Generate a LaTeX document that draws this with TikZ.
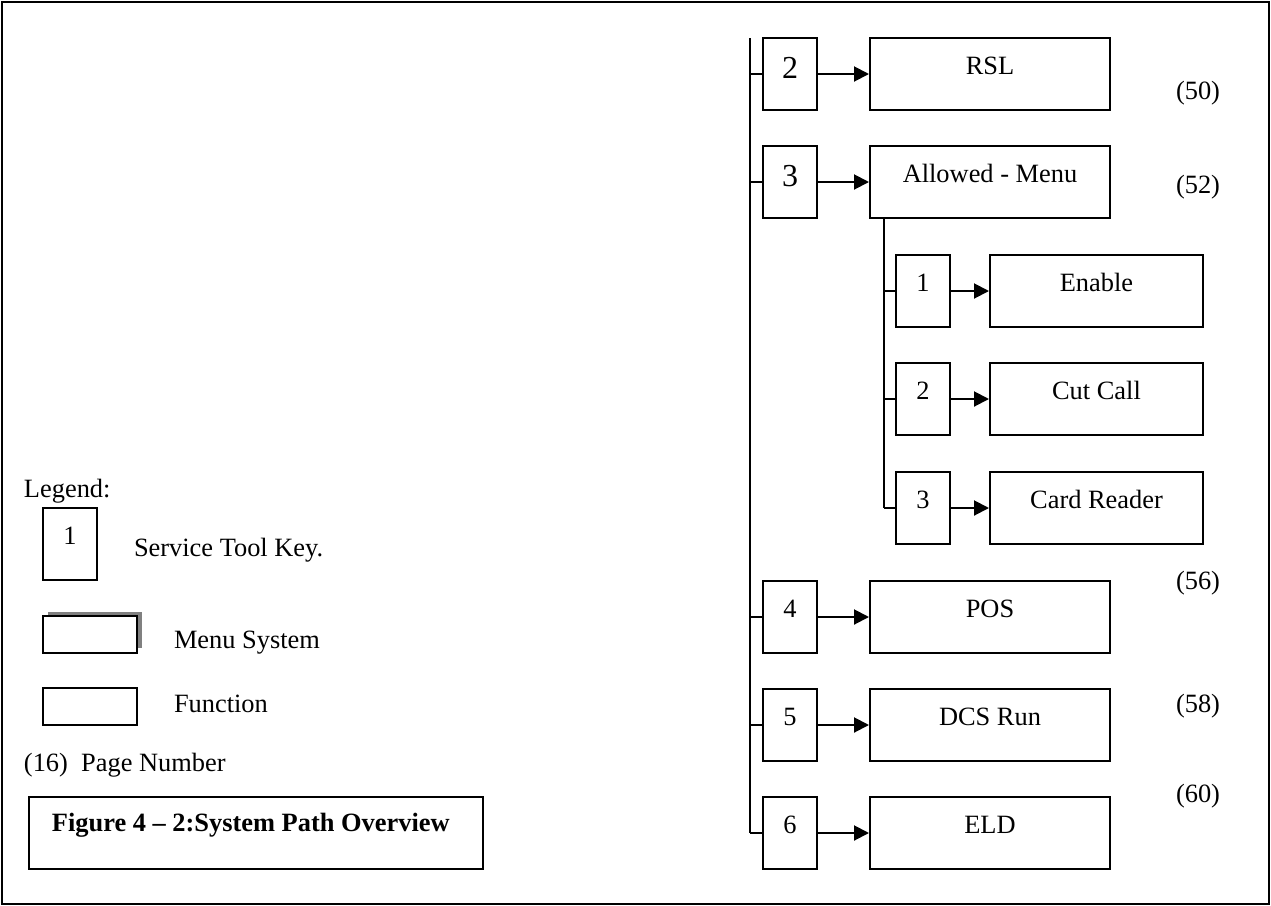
\documentclass[tikz,border=0pt]{standalone}
\usepackage{fontspec}
\setmainfont{Liberation Serif}
\usetikzlibrary{arrows.meta}
\begin{document}
\begin{tikzpicture}[x=0.5pt,y=-0.5pt, line width=1pt,
  txt/.style={inner sep=0pt, font=\fontsize{13.2}{15}\selectfont},
  keybox/.style={draw, inner sep=0pt, minimum width=27pt, minimum height=36pt,
    text height=18pt, text depth=18pt, font=\fontsize{13.2}{15}\selectfont},
  bigkey/.style={keybox, font=\fontsize{16}{18}\selectfont, text height=20pt, text depth=16pt},
  funcbox/.style={draw, inner sep=0pt, minimum width=120pt, minimum height=36pt,
    text height=18pt, text depth=18pt, font=\fontsize{13.2}{15}\selectfont},
  subbox/.style={funcbox, minimum width=106.5pt},
  pg/.style={txt},
  arr/.style={-{Triangle[length=7.5pt,width=7.5pt]}},
  legbox/.style={draw, inner sep=0pt, line width=0.9pt, fill=white},
]
\useasboundingbox (0,0) rectangle (1271,906);
\draw (2,2) rectangle (1269,904);

% main column
\node[bigkey] (k2) at (790,74) {2};
\node[funcbox] (rsl) at (990,74) {RSL};
\node[bigkey] (k3) at (790,182) {3};
\node[funcbox] (allowed) at (990,182) {Allowed - Menu};
\node[keybox] (k4) at (790,617) {4};
\node[funcbox] (pos) at (990,617) {POS};
\node[keybox] (k5) at (790,725) {5};
\node[funcbox] (dcs) at (990,725) {DCS Run};
\node[keybox] (k6) at (790,833) {6};
\node[funcbox] (eld) at (990,833) {ELD};

% sub column
\node[keybox] (s1) at (923,291) {1};
\node[subbox] (enable) at (1096.5,291) {Enable};
\node[keybox] (s2) at (923,399) {2};
\node[subbox] (cut) at (1096.5,399) {Cut Call};
\node[keybox] (s3) at (923,508) {3};
\node[subbox] (card) at (1096.5,508) {Card Reader};

% main trunk
\coordinate (mtop) at (750,38);
\draw (mtop) -- (mtop |- k6.west);
\foreach \k in {k2,k3,k4,k5,k6} \draw (mtop |- \k.west) -- (\k.west);
% sub trunk
\coordinate (sx) at (884,0);
\draw (sx |- allowed.south) -- (sx |- s3.west);
\foreach \k in {s1,s2,s3} \draw (sx |- \k.west) -- (\k.west);

% arrows
\draw[arr] (k2) -- (rsl);
\draw[arr] (k3) -- (allowed);
\draw[arr] (k4) -- (pos);
\draw[arr] (k5) -- (dcs);
\draw[arr] (k6) -- (eld);
\draw[arr] (s1) -- (enable);
\draw[arr] (s2) -- (cut);
\draw[arr] (s3) -- (card);

% page numbers
\node[pg] (p50) at (1198,93) {(50)};
\node[pg] (p52) at (1198,187) {(52)};
\node[pg] (p56) at (1198,583) {(56)};
\node[pg] (p58) at (1198,706) {(58)};
\node[pg] (p60) at (1198,796) {(60)};

% legend
\node[txt, anchor=west] (leg) at (23,491) {Legend:};
\node[keybox, line width=0.9pt] (lkey) at (70,544) {1};
\node[txt, anchor=west] (lkeyt) at (133,550) {Service Tool Key.};
\node[inner sep=0pt, fill=black!50, minimum width=47pt, minimum height=18pt] (lshadow) at (95,630) {};
\node[legbox, minimum width=47pt, minimum height=18.5pt] (lmenu) at (90,634.5) {};
\node[txt, anchor=west] (lmenut) at (173,643) {Menu System};
\node[legbox, minimum width=47pt, minimum height=18.5pt] (lfunc) at (90,706.5) {};
\node[txt, anchor=west] (lfunct) at (173,704) {Function};
\node[txt, anchor=west] (lpage) at (23,765) {(16)\ \ Page Number};
\node[draw, inner sep=0pt, line width=0.9pt, minimum width=227pt, minimum height=36pt] (fig) at (256,833) {};
\node[txt, anchor=west, font=\fontsize{13.2}{15}\selectfont\bfseries] (figt) at (51,825) {Figure 4 -- 2:System Path Overview};
\end{tikzpicture}
\end{document}
